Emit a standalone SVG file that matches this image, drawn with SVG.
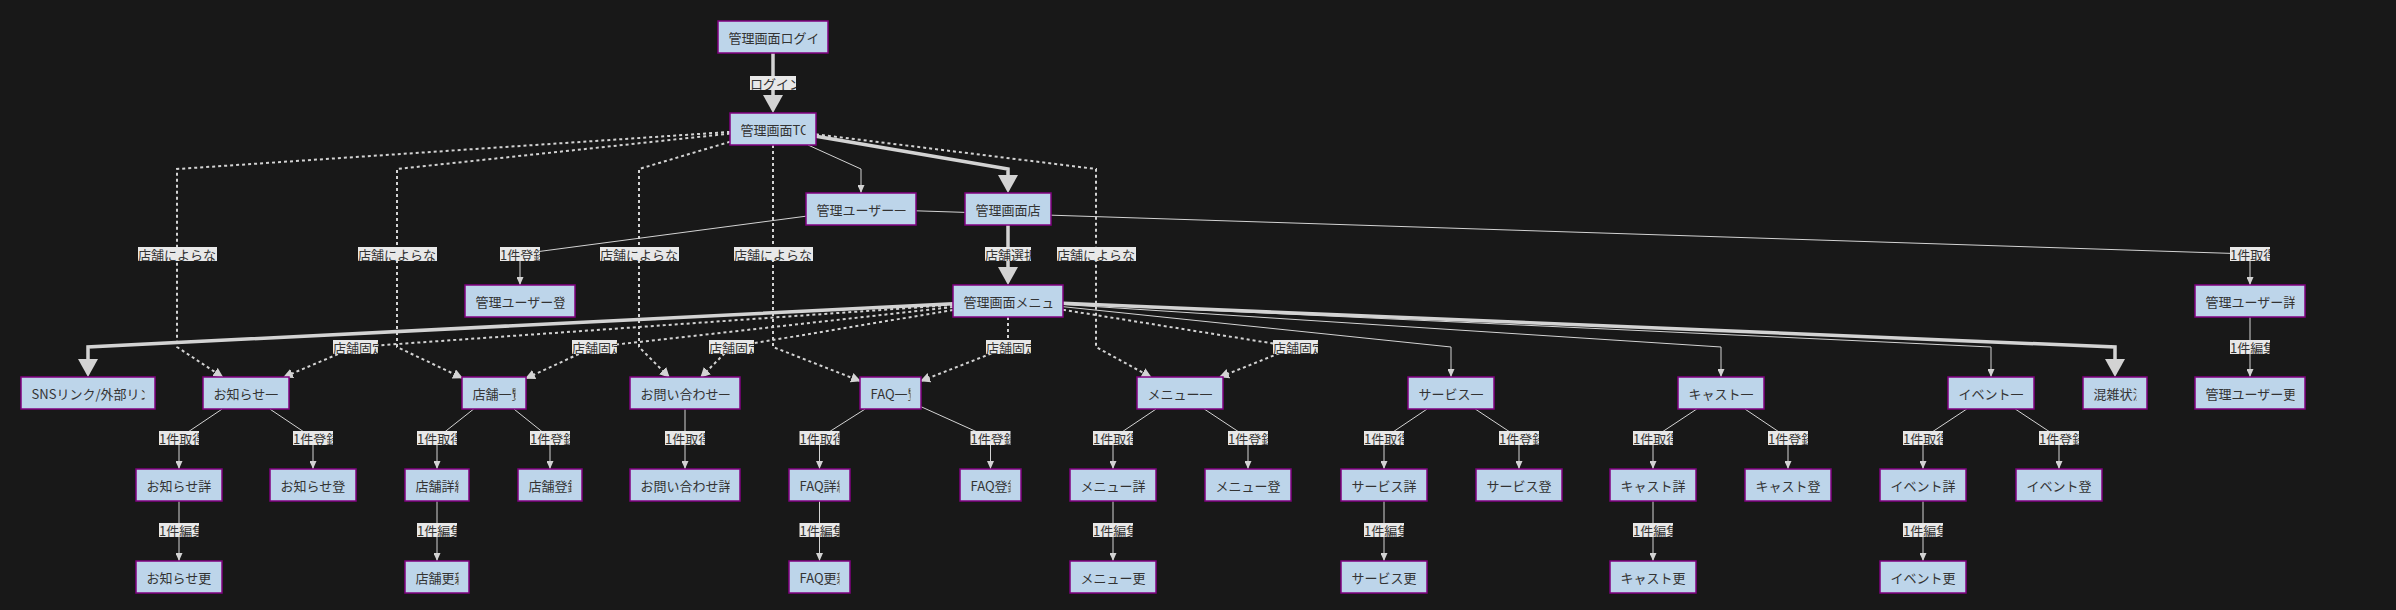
<svg xmlns="http://www.w3.org/2000/svg" width="2396" height="610" viewBox="0 0 2396 610">
<defs>
<style>
.bg{fill:#181818}
.node rect{fill:#bdd5ea;stroke:#800080;stroke-width:1.5}
.t{font-family:"Noto Sans CJK JP","Noto Sans",sans-serif;font-size:13px;fill:#333333;dominant-baseline:central}
.e{fill:none;stroke:#d3d3d3}
.thin{stroke-width:1;marker-end:url(#aThin)}
.thick{stroke-width:3.5;marker-end:url(#aThick)}
.dot{stroke-width:2;stroke-dasharray:3 3;marker-end:url(#aDot)}
.lb{fill:#e8e8e8}
</style>
<marker id="aThin" viewBox="0 0 10 10" markerUnits="userSpaceOnUse" markerWidth="8" markerHeight="7" refX="10" refY="5" orient="auto" preserveAspectRatio="none"><path d="M0,0 L10,5 L0,10 z" fill="#d3d3d3"/></marker>
<marker id="aDot" viewBox="0 0 10 10" markerUnits="userSpaceOnUse" markerWidth="10" markerHeight="10" refX="9" refY="5" orient="auto" preserveAspectRatio="none"><path d="M0,0 L10,5 L0,10 z" fill="#d3d3d3"/></marker>
<marker id="aThick" viewBox="0 0 10 10" markerUnits="userSpaceOnUse" markerWidth="18" markerHeight="20" refX="6.67" refY="5" orient="auto" preserveAspectRatio="none"><path d="M0,0 L10,5 L0,10 z" fill="#d3d3d3"/></marker>
</defs>
<rect class="bg" x="0" y="0" width="2396" height="610"/>

<g id="connectors">
<path class="e thick" d="M773,53 L773,107"/>
<path class="e thin" d="M808,145 L861,169 L861,193"/>
<path class="e thick" d="M816,136.3 L1008,169 L1008,187"/>
<path class="e dot" d="M730,131.9 L177,169 L177,347 L222.5,377"/>
<path class="e dot" d="M730,133.6 L397,169 L397,347 L462,377.8"/>
<path class="e dot" d="M730,141.8 L639,169 L639,347 L669,377"/>
<path class="e dot" d="M773,145 L773,347 L860,381"/>
<path class="e dot" d="M816,134.3 L1096,169 L1096,347 L1150.8,377"/>
<path class="e thick" d="M1008,225 L1008,279"/>
<path class="e thin" d="M806,216.2 L520,254 L520,285"/>
<path class="e thin" d="M916,210.8 L2250,254 L2250,285"/>
<path class="e thin" d="M2250,317 L2250,377"/>
<path class="e thick" d="M953,303.7 L88,347 L88,371"/>
<path class="e dot" d="M953,304.9 L355,347 L283.9,377"/>
<path class="e dot" d="M953,307 L594,347 L526,378.3"/>
<path class="e dot" d="M953,310 L731,347 L701,377"/>
<path class="e dot" d="M1008,317 L1008,347 L921,381"/>
<path class="e dot" d="M1063,309.8 L1295,347 L1220,377"/>
<path class="e thin" d="M1063,306.7 L1451,347 L1451,377"/>
<path class="e thin" d="M1063,304.5 L1721,347 L1721,377"/>
<path class="e thin" d="M1063,303.6 L1991,347 L1991,377"/>
<path class="e thick" d="M1063,303.3 L2115,347 L2115,371"/>
<path class="e thin" d="M222.2,409 L179,438 L179,469"/>
<path class="e thin" d="M269.8,409 L313,438 L313,469"/>
<path class="e thin" d="M179,501 L179,561"/>
<path class="e thin" d="M473.7,409 L437,438 L437,469"/>
<path class="e thin" d="M513.9,409 L550,438 L550,469"/>
<path class="e thin" d="M437,501 L437,561"/>
<path class="e thin" d="M685,409 L685,469"/>
<path class="e thin" d="M865.2,409 L819.5,438 L819.5,469"/>
<path class="e thin" d="M921,406.7 L990.5,438 L990.5,469"/>
<path class="e thin" d="M819.5,501 L819.5,561"/>
<path class="e thin" d="M1156.1,409 L1113,438 L1113,469"/>
<path class="e thin" d="M1204.2,409 L1248,438 L1248,469"/>
<path class="e thin" d="M1113,501 L1113,561"/>
<path class="e thin" d="M1427.1,409 L1384,438 L1384,469"/>
<path class="e thin" d="M1475.2,409 L1519,438 L1519,469"/>
<path class="e thin" d="M1384,501 L1384,561"/>
<path class="e thin" d="M1696.8,409 L1653,438 L1653,469"/>
<path class="e thin" d="M1744.9,409 L1788,438 L1788,469"/>
<path class="e thin" d="M1653,501 L1653,561"/>
<path class="e thin" d="M1966.8,409 L1923,438 L1923,469"/>
<path class="e thin" d="M2015.2,409 L2059,438 L2059,469"/>
<path class="e thin" d="M1923,501 L1923,561"/>
</g>

<g id="edge-labels">
<g><rect class="lb" x="750" y="76" width="46" height="14"/><svg x="750" y="76" width="46" height="14"><text class="t" x="0" y="7">ログイン</text></svg></g>
<g><rect class="lb" x="138" y="247" width="79" height="14"/><svg x="138" y="247" width="79" height="14"><text class="t" x="0" y="7">店舗によらな</text></svg></g>
<g><rect class="lb" x="358" y="247" width="79" height="14"/><svg x="358" y="247" width="79" height="14"><text class="t" x="0" y="7">店舗によらな</text></svg></g>
<g><rect class="lb" x="600" y="247" width="79" height="14"/><svg x="600" y="247" width="79" height="14"><text class="t" x="0" y="7">店舗によらな</text></svg></g>
<g><rect class="lb" x="734" y="247" width="79" height="14"/><svg x="734" y="247" width="79" height="14"><text class="t" x="0" y="7">店舗によらな</text></svg></g>
<g><rect class="lb" x="1057" y="247" width="79" height="14"/><svg x="1057" y="247" width="79" height="14"><text class="t" x="0" y="7">店舗によらな</text></svg></g>
<g><rect class="lb" x="985" y="247" width="46" height="14"/><svg x="985" y="247" width="46" height="14"><text class="t" x="0" y="7">店舗選択</text></svg></g>
<g><rect class="lb" x="500" y="247" width="40" height="14"/><svg x="500" y="247" width="40" height="14"><text class="t" x="0" y="7">1件登録</text></svg></g>
<g><rect class="lb" x="2230" y="247" width="40" height="14"/><svg x="2230" y="247" width="40" height="14"><text class="t" x="0" y="7">1件取得</text></svg></g>
<g><rect class="lb" x="2230" y="340" width="40" height="14"/><svg x="2230" y="340" width="40" height="14"><text class="t" x="0" y="7">1件編集</text></svg></g>
<g><rect class="lb" x="333" y="340" width="45" height="14"/><svg x="333" y="340" width="45" height="14"><text class="t" x="0" y="7">店舗固定</text></svg></g>
<g><rect class="lb" x="572" y="340" width="45" height="14"/><svg x="572" y="340" width="45" height="14"><text class="t" x="0" y="7">店舗固定</text></svg></g>
<g><rect class="lb" x="709" y="340" width="45" height="14"/><svg x="709" y="340" width="45" height="14"><text class="t" x="0" y="7">店舗固定</text></svg></g>
<g><rect class="lb" x="986" y="340" width="45" height="14"/><svg x="986" y="340" width="45" height="14"><text class="t" x="0" y="7">店舗固定</text></svg></g>
<g><rect class="lb" x="1273" y="340" width="45" height="14"/><svg x="1273" y="340" width="45" height="14"><text class="t" x="0" y="7">店舗固定</text></svg></g>
<g><rect class="lb" x="159" y="431" width="40" height="14"/><svg x="159" y="431" width="40" height="14"><text class="t" x="0" y="7">1件取得</text></svg></g>
<g><rect class="lb" x="293" y="431" width="40" height="14"/><svg x="293" y="431" width="40" height="14"><text class="t" x="0" y="7">1件登録</text></svg></g>
<g><rect class="lb" x="159" y="523" width="40" height="14"/><svg x="159" y="523" width="40" height="14"><text class="t" x="0" y="7">1件編集</text></svg></g>
<g><rect class="lb" x="417" y="431" width="40" height="14"/><svg x="417" y="431" width="40" height="14"><text class="t" x="0" y="7">1件取得</text></svg></g>
<g><rect class="lb" x="530" y="431" width="40" height="14"/><svg x="530" y="431" width="40" height="14"><text class="t" x="0" y="7">1件登録</text></svg></g>
<g><rect class="lb" x="417" y="523" width="40" height="14"/><svg x="417" y="523" width="40" height="14"><text class="t" x="0" y="7">1件編集</text></svg></g>
<g><rect class="lb" x="665" y="431" width="40" height="14"/><svg x="665" y="431" width="40" height="14"><text class="t" x="0" y="7">1件取得</text></svg></g>
<g><rect class="lb" x="799.5" y="431" width="40" height="14"/><svg x="799.5" y="431" width="40" height="14"><text class="t" x="0" y="7">1件取得</text></svg></g>
<g><rect class="lb" x="970.5" y="431" width="40" height="14"/><svg x="970.5" y="431" width="40" height="14"><text class="t" x="0" y="7">1件登録</text></svg></g>
<g><rect class="lb" x="799.5" y="523" width="40" height="14"/><svg x="799.5" y="523" width="40" height="14"><text class="t" x="0" y="7">1件編集</text></svg></g>
<g><rect class="lb" x="1093" y="431" width="40" height="14"/><svg x="1093" y="431" width="40" height="14"><text class="t" x="0" y="7">1件取得</text></svg></g>
<g><rect class="lb" x="1228" y="431" width="40" height="14"/><svg x="1228" y="431" width="40" height="14"><text class="t" x="0" y="7">1件登録</text></svg></g>
<g><rect class="lb" x="1093" y="523" width="40" height="14"/><svg x="1093" y="523" width="40" height="14"><text class="t" x="0" y="7">1件編集</text></svg></g>
<g><rect class="lb" x="1364" y="431" width="40" height="14"/><svg x="1364" y="431" width="40" height="14"><text class="t" x="0" y="7">1件取得</text></svg></g>
<g><rect class="lb" x="1499" y="431" width="40" height="14"/><svg x="1499" y="431" width="40" height="14"><text class="t" x="0" y="7">1件登録</text></svg></g>
<g><rect class="lb" x="1364" y="523" width="40" height="14"/><svg x="1364" y="523" width="40" height="14"><text class="t" x="0" y="7">1件編集</text></svg></g>
<g><rect class="lb" x="1633" y="431" width="40" height="14"/><svg x="1633" y="431" width="40" height="14"><text class="t" x="0" y="7">1件取得</text></svg></g>
<g><rect class="lb" x="1768" y="431" width="40" height="14"/><svg x="1768" y="431" width="40" height="14"><text class="t" x="0" y="7">1件登録</text></svg></g>
<g><rect class="lb" x="1633" y="523" width="40" height="14"/><svg x="1633" y="523" width="40" height="14"><text class="t" x="0" y="7">1件編集</text></svg></g>
<g><rect class="lb" x="1903" y="431" width="40" height="14"/><svg x="1903" y="431" width="40" height="14"><text class="t" x="0" y="7">1件取得</text></svg></g>
<g><rect class="lb" x="2039" y="431" width="40" height="14"/><svg x="2039" y="431" width="40" height="14"><text class="t" x="0" y="7">1件登録</text></svg></g>
<g><rect class="lb" x="1903" y="523" width="40" height="14"/><svg x="1903" y="523" width="40" height="14"><text class="t" x="0" y="7">1件編集</text></svg></g>
</g>

<g id="n-login" class="node"><rect x="718" y="21" width="110" height="32"/><svg x="728.5" y="21" width="89" height="32"><text class="t" x="0" y="16">管理画面ログイ</text></svg></g>
<g id="n-top" class="node"><rect x="730" y="113" width="86" height="32"/><svg x="740.5" y="113" width="65" height="32"><text class="t" x="0" y="16">管理画面TO</text></svg></g>
<g id="n-ulist" class="node"><rect x="806" y="193" width="110" height="32"/><svg x="816.5" y="193" width="89" height="32"><text class="t" x="0" y="16">管理ユーザー一</text></svg></g>
<g id="n-store" class="node"><rect x="965" y="193" width="86" height="32"/><svg x="975.5" y="193" width="65" height="32"><text class="t" x="0" y="16">管理画面店</text></svg></g>
<g id="n-menu" class="node"><rect x="953" y="285" width="110" height="32"/><svg x="963.5" y="285" width="89" height="32"><text class="t" x="0" y="16">管理画面メニュ</text></svg></g>
<g id="n-ureg" class="node"><rect x="465" y="285" width="110" height="32"/><svg x="475.5" y="285" width="89" height="32"><text class="t" x="0" y="16">管理ユーザー登</text></svg></g>
<g id="n-udet" class="node"><rect x="2195" y="285" width="110" height="32"/><svg x="2205.5" y="285" width="89" height="32"><text class="t" x="0" y="16">管理ユーザー詳</text></svg></g>
<g id="n-uupd" class="node"><rect x="2195" y="377" width="110" height="32"/><svg x="2205.5" y="377" width="89" height="32"><text class="t" x="0" y="16">管理ユーザー更</text></svg></g>
<g id="n-sns" class="node"><rect x="21" y="377" width="134" height="32"/><svg x="31.5" y="377" width="113" height="32"><text class="t" x="0" y="16">SNSリンク/外部リン</text></svg></g>
<g id="n-nlist" class="node"><rect x="203" y="377" width="86" height="32"/><svg x="213.5" y="377" width="65" height="32"><text class="t" x="0" y="16">お知らせ一</text></svg></g>
<g id="n-slist" class="node"><rect x="462" y="377" width="64" height="32"/><svg x="472.5" y="377" width="43" height="32"><text class="t" x="0" y="16">店舗一覧</text></svg></g>
<g id="n-qlist" class="node"><rect x="630" y="377" width="110" height="32"/><svg x="640.5" y="377" width="89" height="32"><text class="t" x="0" y="16">お問い合わせ一</text></svg></g>
<g id="n-flist" class="node"><rect x="860" y="377" width="61" height="32"/><svg x="870.5" y="377" width="40" height="32"><text class="t" x="0" y="16">FAQ一覧</text></svg></g>
<g id="n-mlist" class="node"><rect x="1137" y="377" width="86" height="32"/><svg x="1147.5" y="377" width="65" height="32"><text class="t" x="0" y="16">メニュー一</text></svg></g>
<g id="n-svlist" class="node"><rect x="1408" y="377" width="86" height="32"/><svg x="1418.5" y="377" width="65" height="32"><text class="t" x="0" y="16">サービス一</text></svg></g>
<g id="n-clist" class="node"><rect x="1678" y="377" width="86" height="32"/><svg x="1688.5" y="377" width="65" height="32"><text class="t" x="0" y="16">キャスト一</text></svg></g>
<g id="n-elist" class="node"><rect x="1948" y="377" width="86" height="32"/><svg x="1958.5" y="377" width="65" height="32"><text class="t" x="0" y="16">イベント一</text></svg></g>
<g id="n-crowd" class="node"><rect x="2083" y="377" width="64" height="32"/><svg x="2093.5" y="377" width="43" height="32"><text class="t" x="0" y="16">混雑状況</text></svg></g>
<g id="n-ndet" class="node"><rect x="136" y="469" width="86" height="32"/><svg x="146.5" y="469" width="65" height="32"><text class="t" x="0" y="16">お知らせ詳</text></svg></g>
<g id="n-nreg" class="node"><rect x="270" y="469" width="86" height="32"/><svg x="280.5" y="469" width="65" height="32"><text class="t" x="0" y="16">お知らせ登</text></svg></g>
<g id="n-sdet" class="node"><rect x="405" y="469" width="64" height="32"/><svg x="415.5" y="469" width="43" height="32"><text class="t" x="0" y="16">店舗詳細</text></svg></g>
<g id="n-sreg" class="node"><rect x="518" y="469" width="64" height="32"/><svg x="528.5" y="469" width="43" height="32"><text class="t" x="0" y="16">店舗登録</text></svg></g>
<g id="n-qdet" class="node"><rect x="630" y="469" width="110" height="32"/><svg x="640.5" y="469" width="89" height="32"><text class="t" x="0" y="16">お問い合わせ詳</text></svg></g>
<g id="n-fdet" class="node"><rect x="789" y="469" width="61" height="32"/><svg x="799.5" y="469" width="40" height="32"><text class="t" x="0" y="16">FAQ詳細</text></svg></g>
<g id="n-freg" class="node"><rect x="960" y="469" width="61" height="32"/><svg x="970.5" y="469" width="40" height="32"><text class="t" x="0" y="16">FAQ登録</text></svg></g>
<g id="n-mdet" class="node"><rect x="1070" y="469" width="86" height="32"/><svg x="1080.5" y="469" width="65" height="32"><text class="t" x="0" y="16">メニュー詳</text></svg></g>
<g id="n-mreg" class="node"><rect x="1205" y="469" width="86" height="32"/><svg x="1215.5" y="469" width="65" height="32"><text class="t" x="0" y="16">メニュー登</text></svg></g>
<g id="n-svdet" class="node"><rect x="1341" y="469" width="86" height="32"/><svg x="1351.5" y="469" width="65" height="32"><text class="t" x="0" y="16">サービス詳</text></svg></g>
<g id="n-svreg" class="node"><rect x="1476" y="469" width="86" height="32"/><svg x="1486.5" y="469" width="65" height="32"><text class="t" x="0" y="16">サービス登</text></svg></g>
<g id="n-cdet" class="node"><rect x="1610" y="469" width="86" height="32"/><svg x="1620.5" y="469" width="65" height="32"><text class="t" x="0" y="16">キャスト詳</text></svg></g>
<g id="n-creg" class="node"><rect x="1745" y="469" width="86" height="32"/><svg x="1755.5" y="469" width="65" height="32"><text class="t" x="0" y="16">キャスト登</text></svg></g>
<g id="n-edet" class="node"><rect x="1880" y="469" width="86" height="32"/><svg x="1890.5" y="469" width="65" height="32"><text class="t" x="0" y="16">イベント詳</text></svg></g>
<g id="n-ereg" class="node"><rect x="2016" y="469" width="86" height="32"/><svg x="2026.5" y="469" width="65" height="32"><text class="t" x="0" y="16">イベント登</text></svg></g>
<g id="n-nupd" class="node"><rect x="136" y="561" width="86" height="32"/><svg x="146.5" y="561" width="65" height="32"><text class="t" x="0" y="16">お知らせ更</text></svg></g>
<g id="n-supd" class="node"><rect x="405" y="561" width="64" height="32"/><svg x="415.5" y="561" width="43" height="32"><text class="t" x="0" y="16">店舗更新</text></svg></g>
<g id="n-fupd" class="node"><rect x="789" y="561" width="61" height="32"/><svg x="799.5" y="561" width="40" height="32"><text class="t" x="0" y="16">FAQ更新</text></svg></g>
<g id="n-mupd" class="node"><rect x="1070" y="561" width="86" height="32"/><svg x="1080.5" y="561" width="65" height="32"><text class="t" x="0" y="16">メニュー更</text></svg></g>
<g id="n-svupd" class="node"><rect x="1341" y="561" width="86" height="32"/><svg x="1351.5" y="561" width="65" height="32"><text class="t" x="0" y="16">サービス更</text></svg></g>
<g id="n-cupd" class="node"><rect x="1610" y="561" width="86" height="32"/><svg x="1620.5" y="561" width="65" height="32"><text class="t" x="0" y="16">キャスト更</text></svg></g>
<g id="n-eupd" class="node"><rect x="1880" y="561" width="86" height="32"/><svg x="1890.5" y="561" width="65" height="32"><text class="t" x="0" y="16">イベント更</text></svg></g>
</svg>
